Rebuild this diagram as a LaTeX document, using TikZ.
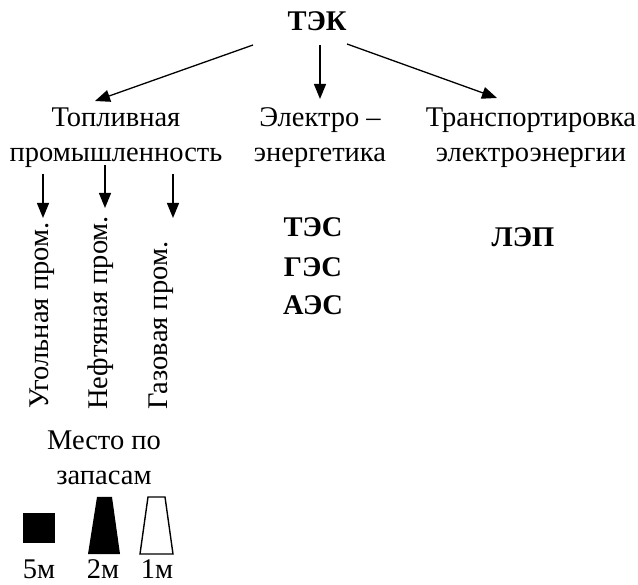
\documentclass[tikz,border=0pt]{standalone}
\usepackage{fontspec}
\setmainfont{Liberation Serif}
\usetikzlibrary{arrows.meta}
\tikzset{
  txt/.style={inner sep=0pt, font=\fontsize{28.5}{35}\selectfont, align=center},
  btxt/.style={inner sep=0pt, font=\fontsize{28.5}{35}\selectfont\bfseries},
  arr/.style={line width=1.3pt, -{Triangle[length=15pt,width=12pt]}},
}
\begin{document}
\begin{tikzpicture}[x=1pt,y=-1pt]
\useasboundingbox (0,0) rectangle (638,585);
\node[btxt] (tek) at (317,21) {ТЭК};
\node[txt] (fuel) at (116,138) {Топливная\\промышленность};
\node[txt] (elec) at (320,138) {Электро –\\энергетика};
\node[txt] (trans) at (531,138) {Транспортировка\\электроэнергии};
\coordinate (a1s) at (253,45); \coordinate (a1e) at (95,101);
\coordinate (a2s) at (320,45); \coordinate (a2e) at (320,99);
\coordinate (a3s) at (347,44); \coordinate (a3e) at (497,98);
\draw[arr] (a1s) -- (a1e);
\draw[arr] (a2s) -- (a2e);
\draw[arr] (a3s) -- (a3e);
\node[txt, rotate=90, anchor=west] (ugol) at (42,409) {Угольная пром.};
\node[txt, rotate=90, anchor=west] (neft) at (101,410) {Нефтяная пром.};
\node[txt, rotate=90, anchor=west] (gaz) at (161,410) {Газовая пром.};
\coordinate (b1s) at (43,174); \coordinate (b1e) at (43,218);
\coordinate (b2s) at (105,165); \coordinate (b2e) at (105,208);
\coordinate (b3s) at (173,174); \coordinate (b3e) at (173,218);
\draw[arr] (b1s) -- (b1e);
\draw[arr] (b2s) -- (b2e);
\draw[arr] (b3s) -- (b3e);
\node[btxt] (tes) at (313,227) {ТЭС};
\node[btxt] (ges) at (313,267) {ГЭС};
\node[btxt] (aes) at (313,305) {АЭС};
\node[btxt] (lep) at (523,237) {ЛЭП};
\node[txt] (mesto) at (104,458) {Место по\\запасам};
\fill (23,513) rectangle (55,543);
\fill (97,497) -- (112,497) -- (120,554) -- (88,554) -- cycle;
\draw[line width=1.4pt, line join=miter] (148,497) -- (165,497) -- (173,554) -- (140,554) -- cycle;
\node[txt] (m5) at (39,569) {5м};
\node[txt] (m2) at (103,569) {2м};
\node[txt] (m1) at (157,569) {1м};
\end{tikzpicture}
\end{document}
